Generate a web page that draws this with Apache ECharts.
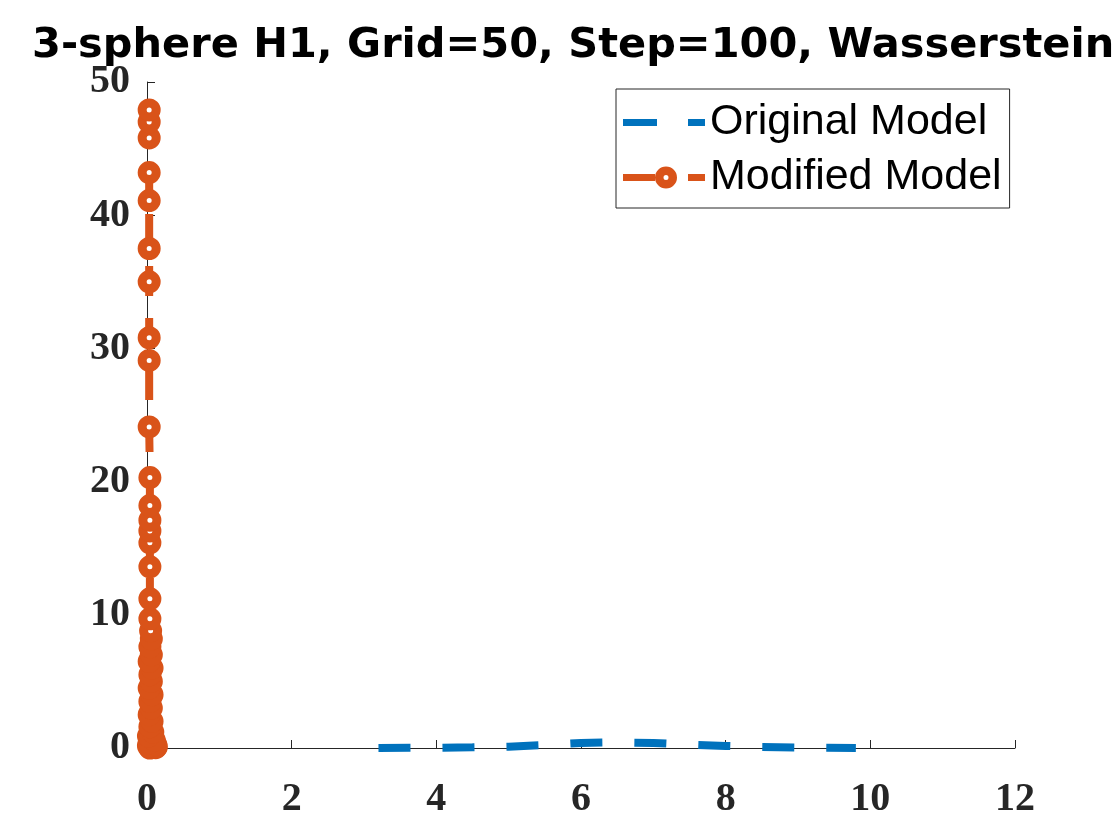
<!DOCTYPE html>
<html>
<head>
<meta charset="utf-8">
<script src="https://cdn.jsdelivr.net/npm/echarts@6/dist/echarts.min.js"></script>
<style>
  html, body { margin: 0; padding: 0; background: #fff; }
  #chart { width: 1120px; height: 840px; }
</style>
</head>
<body>
<div id="chart"></div>
<script>
// Original Model (blue dashed)
var origX = [3.2, 4.0, 4.5, 5.0, 5.5, 6.0, 6.5, 7.0, 7.5, 8.0, 8.5, 9.0, 9.8];
var origY = [0.0, 0.02, 0.05, 0.1, 0.22, 0.38, 0.42, 0.38, 0.25, 0.15, 0.08, 0.04, 0.0];

// Modified Model (orange, circles)
var modX = [0.03, 0.03, 0.03, 0.03, 0.03, 0.03, 0.03, 0.03, 0.03, 0.03,
            0.04, 0.04, 0.04, 0.04, 0.04, 0.04, 0.04, 0.04,
            0.05, 0.06, 0.04, 0.06, 0.03, 0.07, 0.04, 0.06, 0.03, 0.07, 0.04, 0.06, 0.03,
            0.07, 0.04, 0.08, 0.02, 0.1, 0.03, 0.12, 0.02, 0.13, 0.08, 0.12, 0.04];
var modY = [47.9, 47.0, 45.8, 43.2, 41.1, 37.5, 35.0, 30.8, 29.1, 24.1,
            20.3, 18.2, 17.1, 16.3, 15.4, 13.6, 11.2, 9.7,
            8.8, 8.2, 7.6, 7.0, 6.5, 6.0, 5.5, 5.0, 4.5, 4.0, 3.5, 3.0, 2.5,
            2.0, 1.6, 1.2, 0.9, 0.6, 0.4, 0.25, 0.15, 0.1, 0.05, 0.02, 0.0];

var xTicks = { min: 0, max: 12, interval: 2 };
var yTicks = { min: 0, max: 50, interval: 10 };

var origData = origX.map(function (x, i) { return [x, origY[i]]; });
var modData = modX.map(function (x, i) { return [x, modY[i]]; });

var blue = '#0072BD';
var orange = '#D95319';
var axisColor = '#262626';

// legend icons drawn as paths (dash, gap, dash / line, ring, dash)
var blueIcon = 'path://M0,8.5H34V15.5H0Z M65,8.5H82V15.5H65Z';
var orangeIcon = 'path://M0,8.5H32V15.5H0Z ' +
  'M32,12A11,11 0 1,1 54,12A11,11 0 1,1 32,12Z ' +
  'M40.5,12A2.5,2.5 0 1,0 45.5,12A2.5,2.5 0 1,0 40.5,12Z ' +
  'M65,8.5H82V15.5H65Z';

var option = {
  animation: false,
  backgroundColor: '#fff',
  title: {
    text: '3-sphere H1, Grid=50, Step=100, Wasserstein',
    left: 27,
    top: 20,
    textStyle: {
      fontFamily: 'DejaVu Sans',
      fontWeight: 'bold',
      fontSize: 41.5,
      color: '#000'
    }
  },
  legend: {
    orient: 'vertical',
    left: 616,
    top: 89,
    padding: [12, 8, 9, 7],
    itemWidth: 82,
    itemHeight: 24,
    itemGap: 12,
    symbolKeepAspect: true,
    borderColor: '#262626',
    borderWidth: 1,
    backgroundColor: '#fff',
    textStyle: {
      fontFamily: 'Liberation Sans',
      fontSize: 43,
      lineHeight: 43,
      color: '#000'
    },
    data: [
      { name: 'Original Model', icon: blueIcon, itemStyle: { color: blue, borderWidth: 0 } },
      { name: 'Modified Model', icon: orangeIcon, itemStyle: { color: orange, borderWidth: 0 } }
    ]
  },
  grid: {
    left: 147,
    right: 105,
    top: 82,
    bottom: 92,
    containLabel: false
  },
  xAxis: {
    type: 'value',
    min: xTicks.min,
    max: xTicks.max,
    interval: xTicks.interval,
    splitLine: { show: false },
    axisLine: { show: true, onZero: false, lineStyle: { color: axisColor, width: 1 } },
    axisTick: { show: true, inside: true, length: 8, lineStyle: { color: axisColor } },
    axisLabel: {
      margin: 32,
      fontFamily: 'Liberation Serif',
      fontWeight: 'bold',
      fontSize: 40,
      color: axisColor
    }
  },
  yAxis: {
    type: 'value',
    min: yTicks.min,
    max: yTicks.max,
    interval: yTicks.interval,
    splitLine: { show: false },
    axisLine: { show: true, onZero: false, lineStyle: { color: axisColor, width: 1 } },
    axisTick: { show: true, inside: true, length: 8, lineStyle: { color: axisColor } },
    axisLabel: {
      margin: 17,
      fontFamily: 'Liberation Serif',
      fontWeight: 'bold',
      fontSize: 40,
      color: axisColor
    }
  },
  series: [{
    name: 'Original Model',
    type: 'line',
    data: origData,
    symbol: 'none',
    clip: false,
    color: blue,
    lineStyle: { color: blue, width: 8, type: [32, 32] },
    z: 2
  }, {
    name: 'Modified Model',
    type: 'line',
    data: modData,
    symbol: 'none',
    clip: false,
    color: orange,
    lineStyle: { color: orange, width: 8, type: [30, 22] },
    z: 3
  }, {
    // markers drawn bottom-up so the dense cluster near 0 hides its white centres
    name: 'Modified Model markers',
    type: 'scatter',
    data: modData.slice().reverse(),
    symbol: 'circle',
    symbolSize: 14,
    clip: false,
    silent: true,
    itemStyle: { color: '#fff', borderColor: orange, borderWidth: 9, opacity: 1 },
    z: 4
  }]
};

var chart = echarts.init(document.getElementById('chart'));
chart.setOption(option);
</script>
</body>
</html>
